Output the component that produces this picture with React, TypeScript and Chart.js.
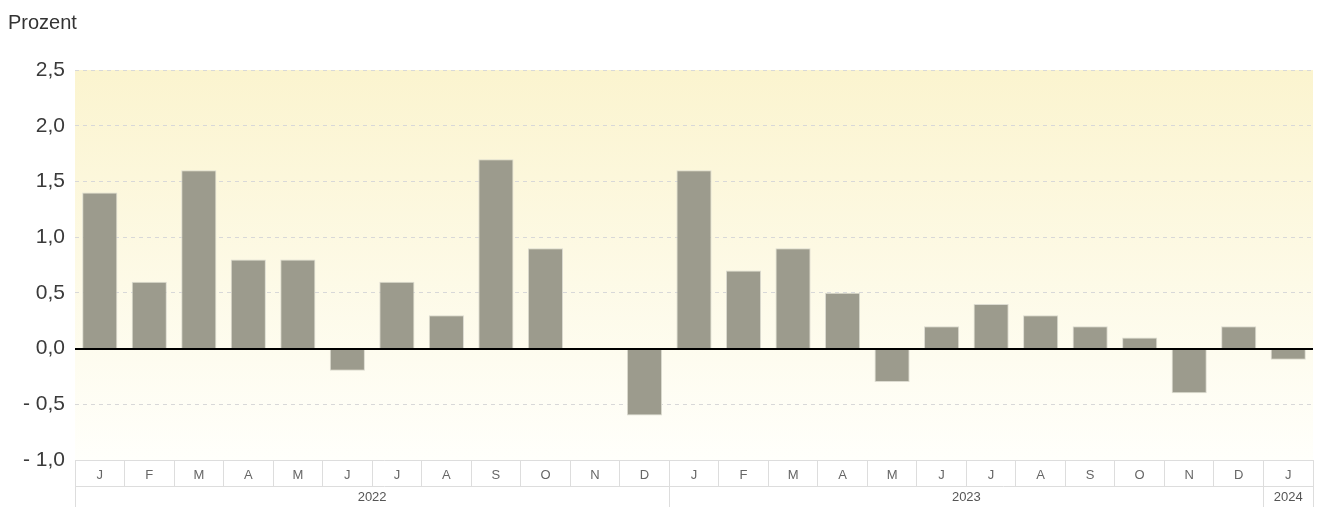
import React, { useEffect, useRef } from "react";
import { Chart, registerables } from "chart.js";

Chart.register(...registerables);

const months: string[] = ["J", "F", "M", "A", "M", "J", "J", "A", "S", "O", "N", "D", "J", "F", "M", "A", "M", "J", "J", "A", "S", "O", "N", "D", "J"];
const values: number[] = [1.4, 0.6, 1.6, 0.8, 0.8, -0.2, 0.6, 0.3, 1.7, 0.9, 0, -0.6, 1.6, 0.7, 0.9, 0.5, -0.3, 0.2, 0.4, 0.3, 0.2, 0.1, -0.4, 0.2, -0.1];
const years: string[] = ["2022", "2023", "2024"];
const yearStart: number[] = [0, 12, 24];
const yearEnd: number[] = [11, 23, 24];
const yAxisLabel = "Prozent";

const fmt = (v: number) => (v < 0 ? "- " : "") + Math.abs(v).toFixed(1).replace(".", ",");

const decor = {
  id: "decor",
  beforeDraw(chart: any) {
    const { ctx, chartArea } = chart;
    const g = ctx.createLinearGradient(0, chartArea.top, 0, chartArea.bottom);
    g.addColorStop(0, "#fbf4cf");
    g.addColorStop(1, "#fffffb");
    ctx.save();
    ctx.fillStyle = g;
    ctx.fillRect(chartArea.left, chartArea.top, chartArea.right - chartArea.left, chartArea.bottom - chartArea.top);
    ctx.restore();
  },
  afterDatasetsDraw(chart: any) {
    const { ctx, chartArea, scales } = chart;
    const y0 = Math.round(scales.y.getPixelForValue(0));
    ctx.save();
    ctx.strokeStyle = "#000";
    ctx.lineWidth = 2;
    ctx.beginPath();
    ctx.moveTo(chartArea.left, y0);
    ctx.lineTo(chartArea.right, y0);
    ctx.stroke();
    ctx.restore();
  },
  afterDraw(chart: any) {
    const { ctx, chartArea, scales, height } = chart;
    const x = scales.x;
    const half = (x.getPixelForValue(1) - x.getPixelForValue(0)) / 2;
    const rowTop = x.top + 26;
    ctx.save();
    ctx.strokeStyle = "#dddddd";
    ctx.lineWidth = 1;
    ctx.beginPath();
    ctx.moveTo(chartArea.left, rowTop + 0.5);
    ctx.lineTo(chartArea.right, rowTop + 0.5);
    const bounds: number[] = [];
    yearStart.forEach((s) => bounds.push(x.getPixelForValue(s) - half));
    bounds.push(x.getPixelForValue(values.length - 1) + half);
    bounds.forEach((b) => {
      const bx = Math.round(b) + 0.5;
      ctx.moveTo(bx, rowTop);
      ctx.lineTo(bx, height);
    });
    ctx.stroke();
    ctx.fillStyle = "#555";
    ctx.font = "13px 'Liberation Sans', Arial, sans-serif";
    ctx.textAlign = "center";
    ctx.textBaseline = "middle";
    years.forEach((yr, i) => {
      const cx = (x.getPixelForValue(yearStart[i]) + x.getPixelForValue(yearEnd[i])) / 2;
      ctx.fillText(yr, cx, rowTop + 11);
    });
    ctx.fillStyle = "#333";
    ctx.font = "20px 'Liberation Sans', Arial, sans-serif";
    ctx.textAlign = "left";
    ctx.textBaseline = "alphabetic";
    ctx.fillText(yAxisLabel, 8, 29);
    ctx.restore();
  },
};

export default function App() {
  const ref = useRef<HTMLCanvasElement>(null);
  useEffect(() => {
    document.body.style.margin = "0";
    const chart = new Chart(ref.current as HTMLCanvasElement, {
      type: "bar",
      data: {
        labels: months,
        datasets: [
          {
            data: values,
            backgroundColor: "#9c9b8d",
            borderColor: "#dcdbd0",
            borderWidth: 1,
            barPercentage: 0.71,
            categoryPercentage: 1,
          },
        ],
      },
      options: {
        animation: false,
        responsive: true,
        maintainAspectRatio: false,
        layout: { padding: { top: 70, right: 4, left: 0, bottom: 0 } },
        plugins: { legend: { display: false }, tooltip: { enabled: false }, title: { display: false } },
        scales: {
          x: {
            afterFit: (s: any) => {
              s.height = 47;
            },
            grid: { offset: true, drawOnChartArea: false, drawTicks: true, tickLength: 26, color: "#dddddd" },
            border: { display: true, color: "#dddddd" },
            ticks: { padding: -18, color: "#666", font: { family: "'Liberation Sans', Arial, sans-serif", size: 13 }, maxRotation: 0, autoSkip: false },
          },
          y: {
            min: -1,
            max: 2.5,
            afterFit: (s: any) => {
              s.width = 75;
            },
            border: { display: false, dash: [4, 4] },
            grid: { drawTicks: false, color: "#d8d8d8" },
            ticks: {
              stepSize: 0.5,
              padding: 10,
              color: "#3a3a3a",
              font: { family: "'Liberation Sans', Arial, sans-serif", size: 21 },
              callback: (v: any) => fmt(Number(v)),
            },
          },
        },
      } as any,
      plugins: [decor],
    });
    return () => chart.destroy();
  }, []);
  return (
    <div style={{ width: "1317px", height: "507px", position: "relative" }}>
      <canvas ref={ref} />
    </div>
  );
}
